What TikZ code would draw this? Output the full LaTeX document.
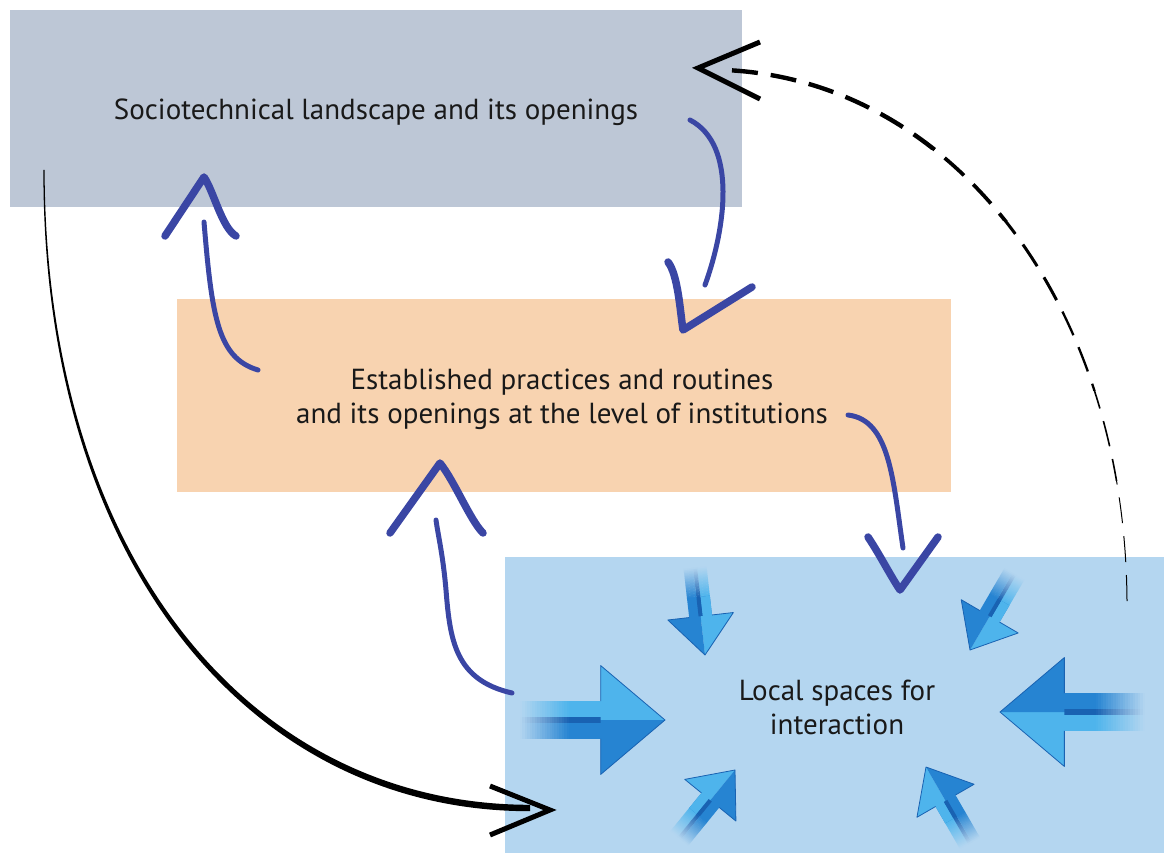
\documentclass[tikz,border=0pt]{standalone}
\usepackage{fontspec}
\setmainfont{PT Sans}
\definecolor{boxgray}{RGB}{189,199,214}
\definecolor{boxorange}{RGB}{248,211,176}
\definecolor{boxblue}{RGB}{180,214,240}
\definecolor{pen}{RGB}{58,70,164}
\definecolor{arrmid}{RGB}{38,132,210}
\definecolor{arrlight}{RGB}{78,180,236}
\definecolor{arrdark}{RGB}{25,98,178}
\definecolor{txt}{RGB}{25,25,25}
\begin{document}
\begin{tikzpicture}[x=1pt,y=-1pt,
  box/.style={rectangle, inner sep=0pt, align=center, text=txt,
    font=\fontsize{29}{34}\selectfont},
  penline/.style={draw=pen, line width=5pt, line cap=round, line join=round},
  penhead/.style={draw=pen, line width=7.5pt, line cap=round, line join=round},
  blackhead/.style={draw=black, line width=5pt, line join=miter},
  lsarrow/.pic={
    \foreach \i in {0,...,19}{
      \pgfmathtruncatemacro\pc{2+5*\i}
      \fill[arrlight!\pc!boxblue] ({-88+1.5*\i},-11.5) rectangle ({-86.2+1.5*\i},-2);
      \fill[arrdark!\pc!boxblue] ({-88+1.5*\i},-2) rectangle ({-86.2+1.5*\i},2);
      \fill[arrmid!\pc!boxblue] ({-88+1.5*\i},2) rectangle ({-86.2+1.5*\i},11.5);
    }
    \fill[arrmid] (-58.3,-11.5) rectangle (-38,11.5);
    \fill[arrlight] (-58.3,-11.5) rectangle (-38,-2);
    \fill[arrdark] (-58.3,-2) rectangle (-38,2);
    \fill[arrlight] (-39,-33) -- (0,0) -- (-39,0) -- cycle;
    \fill[arrmid] (-39,33) -- (0,0) -- (-39,0) -- cycle;
    \draw[arrdark, line width=0.8pt, line join=round] (-39,-11.5) -- (-39,-33) -- (0,0) -- (-39,33) -- (-39,11.5);
  }
]
\useasboundingbox (0,0) rectangle (1164,853);

% boxes
\node[box, fill=boxgray, minimum width=732pt, minimum height=197pt] (land) at (376,108.5) {};
\node[box] (landtxt) at (376,112) {Sociotechnical landscape and its openings};
\node[box, fill=boxorange, minimum width=774pt, minimum height=193pt] (inst) at (564,395.5) {};
\node[box] (insttxt) at (562,399) {Established practices and routines\\and its openings at the level of institutions};
\node[box, fill=boxblue, minimum width=659pt, minimum height=296pt] (local) at (834.5,705) {};
\node[box] (localtxt) at (837,707) {Local spaces for\\interaction};

% arrows converging in local spaces
\pic[rotate=0, scale=1.65] at (665,720) {lsarrow};
\pic[rotate=180, scale=1.65] at (1000,712) {lsarrow};
\pic[rotate=-83.5] at (705,655) {lsarrow};
\pic[rotate=-120.3] at (970,650) {lsarrow};
\pic[rotate=50.8] at (735,770) {lsarrow};
\pic[rotate=120] at (926,767) {lsarrow};

% named endpoints
\coordinate (a1s) at (258,370);
\coordinate (a1e) at (204,222);
\coordinate (a1t) at (204,177);
\coordinate (a2s) at (690,120);
\coordinate (a2e) at (705,285);
\coordinate (a2t) at (683,330);
\coordinate (a3s) at (512,693);
\coordinate (a3e) at (436,520);
\coordinate (a3t) at (440,463);
\coordinate (a4s) at (848,415);
\coordinate (a4e) at (903,548);
\coordinate (a4t) at (900,590);

% pen arrows
\draw[penline] (a1s) .. controls (218,358) and (212,318) .. (a1e);
\draw[penhead] (165,236) -- (a1t) .. controls (214,192) and (222,228) .. (236,236);

\draw[penline] (a2s) .. controls (738,145) and (725,230) .. (a2e);
\draw[penhead] (668,262) .. controls (678,275) and (680,310) .. (a2t) -- (752,287);

\draw[penline] (a3s) .. controls (455,680) and (450,640) .. (446,590) .. controls (443,555) and (438,535) .. (a3e);
\draw[penhead] (390,533) -- (a3t) .. controls (455,482) and (470,520) .. (483,533);

\draw[penline] (a4s) .. controls (890,420) and (893,480) .. (a4e);
\draw[penhead] (868,537) .. controls (880,555) and (890,575) .. (a4t) -- (938,537);

% black solid tapered arrow from landscape to local spaces
\coordinate (bS) at (44,170);
\coordinate (bE) at (530,808);
\coordinate (bT) at (550,810);
\fill[black] (43.4,170) .. controls (42.5,563) and (250,811.5) .. (530,811.2)
  -- (530,804.8) .. controls (250,804.5) and (45.5,557) .. (44.6,170) -- cycle;
\draw[blackhead] (490,786) -- (bT) -- (490,835);

% dashed tapered arrow from local spaces to landscape
\coordinate (dS) at (1127,601);
\coordinate (dE) at (725,70);
\coordinate (dT) at (698,68);
\foreach \ya/\yb/\w in {480/615/1, 390/480/1.6, 300/390/2.3, 220/300/3, 150/220/3.7, 0/150/4.4}{
  \begin{scope}
    \clip (600,\ya) rectangle (1164,\yb);
    \draw[black, line width=\w pt, dash pattern=on 26pt off 13pt]
      (dS) .. controls (1125,300) and (950,80) .. (dE);
  \end{scope}
}
\draw[blackhead] (760,42) -- (dT) -- (760,99);
\end{tikzpicture}
\end{document}
